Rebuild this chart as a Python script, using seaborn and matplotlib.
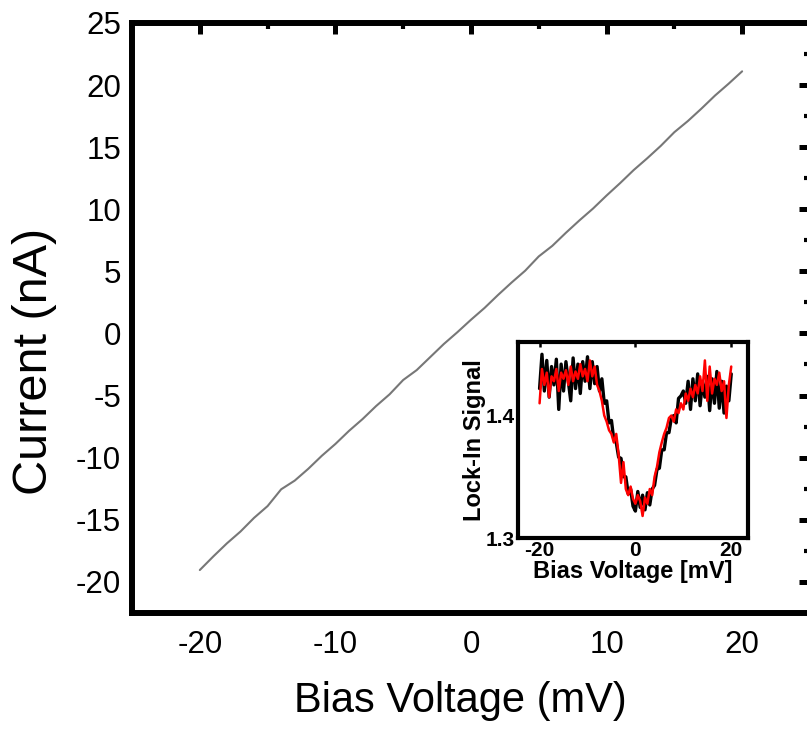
import numpy as np
import pandas as pd
import matplotlib
matplotlib.use('Agg')
import matplotlib.pyplot as plt
import seaborn as sns

# main I-V curve
bias_mv = [-20, -19, -18, -17, -16, -15, -14, -13, -12, -11, -10,
           -9, -8, -7, -6, -5, -4, -3, -2, -1, 0,
           1, 2, 3, 4, 5, 6, 7, 8, 9, 10,
           11, 12, 13, 14, 15, 16, 17, 18, 19, 20]
current_na = [-19.05, -17.95, -16.9, -15.95, -14.85, -13.9, -12.55, -11.85, -10.9, -9.85, -8.9,
              -7.85, -6.9, -5.85, -4.9, -3.75, -2.95, -1.9, -0.85, 0.1, 1.1,
              2.05, 3.1, 4.1, 5.05, 6.2, 7.05, 8.1, 9.1, 10.05, 11.1,
              12.1, 13.15, 14.1, 15.1, 16.2, 17.1, 18.1, 19.15, 20.1, 21.1]

# inset lock-in signal, x every 0.5 mV from -20 to 20
inset_bias = [-20.0, -19.5, -19.0, -18.5, -18.0, -17.5, -17.0, -16.5, -16.0, -15.5,
              -15.0, -14.5, -14.0, -13.5, -13.0, -12.5, -12.0, -11.5, -11.0, -10.5,
              -10.0, -9.5, -9.0, -8.5, -8.0, -7.5, -7.0, -6.5, -6.0, -5.5,
              -5.0, -4.5, -4.0, -3.5, -3.0, -2.5, -2.0, -1.5, -1.0, -0.5,
              0.0, 0.5, 1.0, 1.5, 2.0, 2.5, 3.0, 3.5, 4.0, 4.5,
              5.0, 5.5, 6.0, 6.5, 7.0, 7.5, 8.0, 8.5, 9.0, 9.5,
              10.0, 10.5, 11.0, 11.5, 12.0, 12.5, 13.0, 13.5, 14.0, 14.5,
              15.0, 15.5, 16.0, 16.5, 17.0, 17.5, 18.0, 18.5, 19.0, 19.5, 20.0]
signal_black = [1.422, 1.450, 1.420, 1.445, 1.415, 1.440, 1.425, 1.446, 1.405, 1.442,
                1.420, 1.444, 1.428, 1.412, 1.447, 1.422, 1.442, 1.418, 1.444, 1.428,
                1.448, 1.422, 1.444, 1.426, 1.440, 1.420, 1.430, 1.410, 1.412, 1.394,
                1.396, 1.380, 1.378, 1.366, 1.365, 1.350, 1.350, 1.336, 1.340, 1.326,
                1.322, 1.338, 1.325, 1.335, 1.323, 1.337, 1.327, 1.340, 1.343, 1.356,
                1.357, 1.372, 1.372, 1.386, 1.386, 1.398, 1.400, 1.394, 1.414, 1.416,
                1.420, 1.410, 1.428, 1.405, 1.430, 1.412, 1.434, 1.408, 1.428, 1.415,
                1.432, 1.404, 1.430, 1.410, 1.436, 1.406, 1.428, 1.402, 1.424, 1.412, 1.434]
signal_red = [1.410, 1.438, 1.425, 1.435, 1.415, 1.432, 1.428, 1.438, 1.420, 1.435,
              1.430, 1.437, 1.425, 1.440, 1.428, 1.436, 1.430, 1.442, 1.432, 1.438,
              1.428, 1.445, 1.432, 1.440, 1.425, 1.420, 1.412, 1.400, 1.395, 1.388,
              1.385, 1.378, 1.385, 1.368, 1.345, 1.362, 1.340, 1.335, 1.342, 1.332,
              1.328, 1.335, 1.330, 1.318, 1.333, 1.328, 1.340, 1.335, 1.350, 1.358,
              1.370, 1.378, 1.385, 1.390, 1.398, 1.400, 1.395, 1.405, 1.402, 1.410,
              1.405, 1.418, 1.412, 1.422, 1.415, 1.425, 1.418, 1.432, 1.420, 1.445,
              1.412, 1.440, 1.418, 1.430, 1.425, 1.435, 1.420, 1.428, 1.398, 1.425, 1.440]

sns.set_theme(style='white')
plt.rcParams['font.family'] = ['Liberation Sans', 'DejaVu Sans']
plt.rcParams['axes.unicode_minus'] = False
plt.rcParams['text.color'] = 'black'
plt.rcParams['axes.labelcolor'] = 'black'

fig = plt.figure(figsize=(8.07, 7.34), dpi=100)

# main axes (right spine sits just past the image edge)
ax = fig.add_axes([0.1636, 0.165, 0.840, 0.8038])
sns.lineplot(x=bias_mv, y=current_na, ax=ax, color='#777777', linewidth=1.5,
             sort=False, estimator=None)
ax.set_xlim(-25, 25)
ax.set_ylim(-22.5, 25)
ax.set_xticks([-20, -10, 0, 10, 20])
ax.set_xticks([-15, -5, 5, 15], minor=True)
ax.set_yticks(np.arange(-20, 26, 5))
ax.set_yticks(np.arange(-22.5, 25, 5), minor=True)
for s in ax.spines.values():
    s.set_linewidth(4.3)
    s.set_color('black')
ax.tick_params(which='major', direction='in', top=True, right=True, length=8, width=3.6,
               labelsize=22.5, colors='black')
ax.tick_params(axis='x', which='major', pad=12)
ax.tick_params(axis='y', which='major', pad=8)
ax.tick_params(which='minor', direction='in', top=True, right=True, length=4.5, width=3,
               colors='black')
ax.set_xlabel('Bias Voltage (mV)', fontsize=30)
ax.set_ylabel('Current (nA)', fontsize=35)
ax.xaxis.set_label_coords(0.484, -0.115)
ax.yaxis.set_label_coords(-0.11, 0.427)

# inset
axi = fig.add_axes([0.6419, 0.267, 0.285, 0.267])
sns.lineplot(x=inset_bias, y=signal_black, ax=axi, color='black', linewidth=2.4,
             sort=False, estimator=None)
sns.lineplot(x=inset_bias, y=signal_red, ax=axi, color='red', linewidth=1.8,
             sort=False, estimator=None)
axi.set_xlim(-24.5, 23.5)
axi.set_ylim(1.3, 1.46)
axi.set_xticks([-20, 0, 20])
axi.set_yticks([1.3, 1.4])
axi.set_yticklabels(['1.3', '1.4'])
for s in axi.spines.values():
    s.set_linewidth(3)
    s.set_color('black')
axi.tick_params(direction='in', top=True, length=3.5, width=1.8, labelsize=15, pad=2,
                colors='black')
for lbl in axi.get_xticklabels() + axi.get_yticklabels():
    lbl.set_fontweight('bold')
axi.set_xlabel('Bias Voltage [mV]', fontsize=17, fontweight='bold', labelpad=0)
axi.set_ylabel('Lock-In Signal', fontsize=17, fontweight='bold', labelpad=0)

fig.savefig('out.png', dpi=100)
